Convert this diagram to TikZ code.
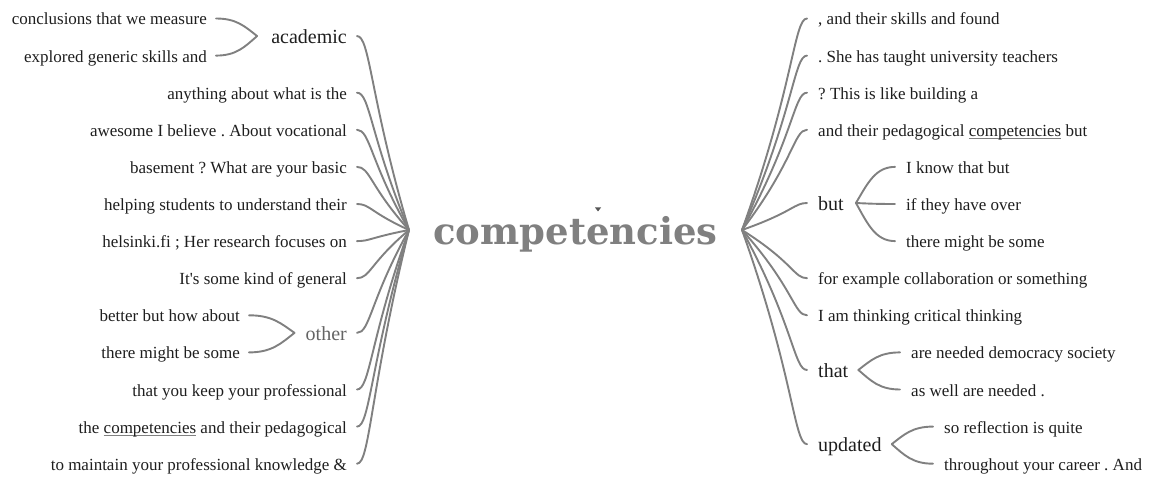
\documentclass[tikz,border=0pt]{standalone}
\usepackage{fontspec}
\setmainfont{Liberation Serif}
\newfontfamily\hubfont{DejaVu Serif}
\usetikzlibrary{calc}
\definecolor{linkgray}{RGB}{128,128,128}
\definecolor{txt}{RGB}{30,30,30}
\definecolor{hubgray}{RGB}{128,128,128}
\definecolor{midgray}{RGB}{100,100,100}
\definecolor{markgray}{RGB}{85,85,85}
\newlength\ulw
\newcommand\grayul[1]{\settowidth\ulw{#1}\rlap{\textcolor{linkgray}{\rule[-2.6pt]{\ulw}{0.8pt}}}#1}
\frenchspacing
\begin{document}
\frenchspacing
\begin{tikzpicture}[x=1pt,y=-1pt,
  leaf/.style={inner sep=0pt, text=txt, font=\frenchspacing\fontsize{17}{20}\selectfont},
  midword/.style={inner sep=0pt, text=txt, font=\fontsize{20}{24}\selectfont},
  link/.style={draw=linkgray, line width=1.9pt, line cap=round}]
\useasboundingbox (0,0) rectangle (1157,481);

% centre
\node[inner sep=0pt, anchor=base, text=hubgray, font=\hubfont\bfseries\fontsize{37}{44}\selectfont] (hub) at (575.5,245) {competencies};
\fill[markgray] (595,207.5) -- (601,207.5) -- (598,211.5) -- cycle;
\coordinate (hL) at (409,230);
\coordinate (hR) at (742,230);

% left side
\node[leaf,anchor=base east] (L0) at (207,25) {conclusions that we measure};
\node[leaf,anchor=base east] (L1) at (207,62.1) {explored generic skills and};
\node[midword,anchor=base east] (La) at (347,43.55) {academic};
\node[leaf,anchor=base east] (L2) at (347,99.2) {anything about what is the};
\node[leaf,anchor=base east] (L3) at (347,136.3) {awesome I believe . About vocational};
\node[leaf,anchor=base east] (L4) at (347,173.4) {basement ? What are your basic};
\node[leaf,anchor=base east] (L5) at (347,210.5) {helping students to understand their};
\node[leaf,anchor=base east] (L6) at (347,247.6) {helsinki.fi ; Her research focuses on};
\node[leaf,anchor=base east] (L7) at (347,284.7) {It\textquotesingle s some kind of general};
\node[leaf,anchor=base east] (L8) at (240,321.8) {better but how about};
\node[leaf,anchor=base east] (L9) at (240,358.9) {there might be some};
\node[midword,anchor=base east,text=midgray] (Lo) at (347,340.35) {other};
\node[leaf,anchor=base east] (L10) at (347,396) {that you keep your professional};
\node[leaf,anchor=base east] (L11) at (347,433.1) {the \grayul{competencies} and their pedagogical};
\node[leaf,anchor=base east] (L12) at (347,470.2) {to maintain your professional knowledge \&};

\foreach \n in {L2,L3,L4,L5,L6,L7,L10,L11,L12}
  \coordinate (\n p) at ($(\n.base east)+(10,-6.5)$);
\foreach \n in {La,Lo}
  \coordinate (\n p) at ($(\n.base east)+(10,-7.5)$);
\foreach \n in {L0,L1,L8,L9}
  \coordinate (\n p) at ($(\n.base east)+(9,-6.5)$);
\coordinate (Ja) at ($(La.base west)+(-14,-7.5)$);
\coordinate (Jo) at ($(Lo.base west)+(-11,-7.5)$);

\foreach \q in {Lap,L2p,L3p,L4p,L5p,L6p,L7p,Lop,L10p,L11p,L12p}
  \draw[link] (hL) .. controls ($($(\q)+(13,0)$)!0.32!($(\q |- hL)+(13,0)$)$) and ($(\q)+(13,0)$) .. (\q);
\foreach \j/\q in {Ja/L0p,Ja/L1p,Jo/L8p,Jo/L9p}
  \draw[link] let \p1=(\j), \p2=(\q) in (\j) .. controls ({\x1+0.3*(\x2-\x1)},{\y1+0.55*(\y2-\y1)}) and ({\x2-0.5*(\x2-\x1)},\y2) .. (\q);

% right side
\node[leaf,anchor=base west] (R0) at (818,25) {, and their skills and found};
\node[leaf,anchor=base west] (R1) at (818,62.1) {. She has taught university teachers};
\node[leaf,anchor=base west] (R2) at (818,99.2) {? This is like building a};
\node[leaf,anchor=base west] (R3) at (818,136.3) {and their pedagogical \grayul{competencies} but};
\node[leaf,anchor=base west] (R4) at (906,173.4) {I know that but};
\node[midword,anchor=base west] (Rb) at (818,210.5) {but};
\node[leaf,anchor=base west] (R5) at (906,210.5) {if they have over};
\node[leaf,anchor=base west] (R6) at (906,247.6) {there might be some};
\node[leaf,anchor=base west] (R7) at (818,284.7) {for example collaboration or something};
\node[leaf,anchor=base west] (R8) at (818,321.8) {I am thinking critical thinking};
\node[leaf,anchor=base west] (R9) at (911,358.9) {are needed democracy society};
\node[midword,anchor=base west] (Rt) at (818,377.45) {that};
\node[leaf,anchor=base west] (R10) at (911,396) {as well are needed .};
\node[leaf,anchor=base west] (R11) at (944,433.1) {so reflection is quite};
\node[midword,anchor=base west] (Ru) at (818,451.65) {updated};
\node[leaf,anchor=base west] (R12) at (944,470.2) {throughout your career . And};

\foreach \n in {R0,R1,R2,R3,R7,R8,R4,R5,R6,R9,R10,R11,R12}
  \coordinate (\n p) at ($(\n.base west)+(-11,-6.5)$);
\foreach \n in {Rb,Rt,Ru}
  \coordinate (\n p) at ($(\n.base west)+(-11,-7.5)$);
\coordinate (Jb) at ($(Rb.base east)+(12,-7.5)$);
\coordinate (Jt) at ($(Rt.base east)+(10,-7.5)$);
\coordinate (Ju) at ($(Ru.base east)+(10,-7.5)$);

\foreach \q in {R0p,R1p,R2p,R3p,Rbp,R7p,R8p,Rtp,Rup}
  \draw[link] (hR) .. controls ($($(\q)+(-13,0)$)!0.32!($(\q |- hR)+(-13,0)$)$) and ($(\q)+(-13,0)$) .. (\q);
\foreach \j/\q in {Jb/R4p,Jb/R5p,Jb/R6p,Jt/R9p,Jt/R10p,Ju/R11p,Ju/R12p}
  \draw[link] let \p1=(\j), \p2=(\q) in (\j) .. controls ({\x1+0.3*(\x2-\x1)},{\y1+0.55*(\y2-\y1)}) and ({\x2-0.5*(\x2-\x1)},\y2) .. (\q);
\end{tikzpicture}
\end{document}
